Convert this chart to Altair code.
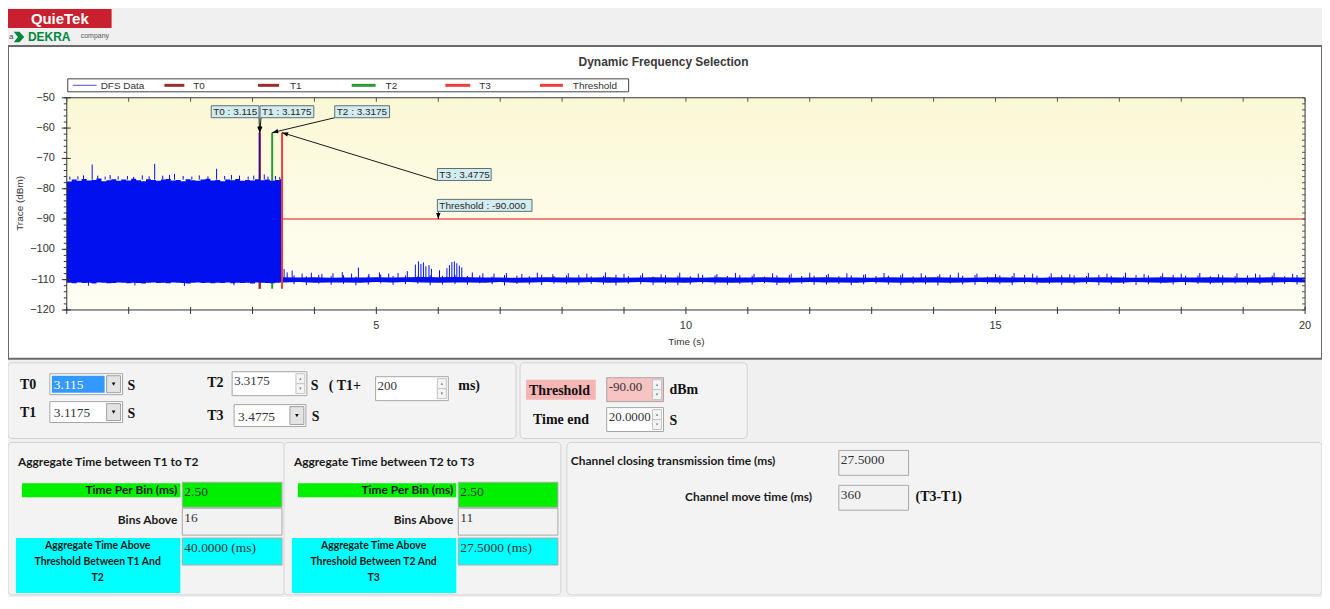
import math
import altair as alt
import pandas as pd

# ---------------- values ----------------
x_domain = [0, 20]
y_domain = [-120, -50]
x_tick_values = list(range(0, 21))
y_tick_values = list(range(-120, -49, 2))
x_label_values = [5, 10, 15, 20]
y_label_values = [-50, -60, -70, -80, -90, -100, -110, -120]

# dense DFS trace before T3: upper / lower envelope of the packed samples
block_t = [0.00, 0.08, 0.16, 0.24, 0.32, 0.40, 0.48, 0.56, 0.64, 0.72, 0.80, 0.88, 0.96, 1.04, 1.12,
           1.20, 1.28, 1.36, 1.44, 1.52, 1.60, 1.68, 1.76, 1.84, 1.92, 2.00, 2.08, 2.16, 2.24, 2.32,
           2.40, 2.48, 2.56, 2.64, 2.72, 2.80, 2.88, 2.96, 3.04, 3.12, 3.20, 3.28, 3.36, 3.44, 3.4775]
block_top = [-77.6, -77.0, -77.4, -76.8, -77.3, -77.1, -76.6, -77.5, -77.2, -76.9, -77.4, -77.0, -77.3, -76.7, -77.2,
             -77.5, -76.9, -77.1, -77.4, -77.0, -76.8, -77.3, -77.1, -77.5, -76.9, -77.2, -77.4, -77.0, -76.7, -77.3,
             -77.1, -77.5, -77.0, -77.2, -76.8, -77.4, -77.1, -77.3, -76.9, -77.2, -77.0, -77.4, -77.1, -76.9, -77.3]
block_bot = [-111.0, -111.2, -110.9, -111.1, -111.0, -111.3, -110.9, -111.0, -111.2, -111.1, -110.9, -111.0, -111.2, -111.0, -111.1,
             -111.3, -111.0, -110.9, -111.1, -111.0, -111.2, -110.9, -111.0, -111.1, -111.3, -111.0, -110.9, -111.1, -111.0, -111.2,
             -111.0, -111.1, -110.9, -111.2, -111.0, -111.1, -111.0, -111.3, -110.9, -111.0, -111.1, -111.2, -111.0, -110.9, -111.0]
block_spike_t = [0.05, 0.18, 0.27, 0.41, 0.50, 0.62, 0.70, 0.83, 0.98, 1.08, 1.22, 1.33, 1.42, 1.55, 1.66, 1.74,
                 1.88, 2.02, 2.14, 2.28, 2.42, 2.55, 2.66, 2.79, 2.93, 3.02, 3.115, 3.19, 3.25, 3.37, 3.44]
block_spike_v = [-76.0, -75.9, -75.6, -72.0, -75.7, -76.0, -75.5, -75.9, -75.8, -76.1, -75.6, -75.9, -71.8, -75.7, -75.4, -75.1,
                 -75.8, -76.0, -75.6, -75.9, -73.4, -75.8, -75.5, -75.7, -76.0, -75.7, -61.5, -75.3, -76.0, -75.8, -76.1]
block_dip_t = [0.35, 1.10, 1.90, 2.70]
block_dip_v = [-112.0, -111.9, -112.1, -111.8]

# noise floor after T3
noise_t = [3.48, 3.75, 4.00, 4.25, 4.50, 4.75, 5.00, 5.25, 5.50, 5.75, 6.00, 6.25, 6.50, 6.75, 7.00, 7.25, 7.50,
           7.75, 8.00, 8.25, 8.50, 8.75, 9.00, 9.25, 9.50, 9.75, 10.00, 10.25, 10.50, 10.75, 11.00, 11.25, 11.50,
           11.75, 12.00, 12.25, 12.50, 12.75, 13.00, 13.25, 13.50, 13.75, 14.00, 14.25, 14.50, 14.75, 15.00, 15.25,
           15.50, 15.75, 16.00, 16.25, 16.50, 16.75, 17.00, 17.25, 17.50, 17.75, 18.00, 18.25, 18.50, 18.75, 19.00,
           19.25, 19.50, 19.75, 20.00]
noise_hi = [-109.2, -109.3, -109.2, -109.4, -109.3, -109.3, -109.2, -109.3, -109.2, -109.1,
            -109.2, -109.1, -109.2, -109.3, -109.3, -109.4, -109.3, -109.2, -109.3, -109.3,
            -109.3, -109.2, -109.4, -109.3, -109.2, -109.3, -109.3, -109.4, -109.2, -109.3,
            -109.3, -109.2, -109.3, -109.4, -109.3, -109.2, -109.3, -109.3, -109.4, -109.2,
            -109.3, -109.3, -109.2, -109.3, -109.4, -109.3, -109.2, -109.3, -109.3, -109.4,
            -109.2, -109.3, -109.3, -109.2, -109.3, -109.4, -109.3, -109.2, -109.3, -109.3,
            -109.2, -109.3, -109.4, -109.3, -109.2, -109.3, -109.3]
noise_lo = [-110.9, -110.8, -111.0, -110.9, -110.9, -111.0, -110.8, -110.9, -110.8, -110.9,
            -111.0, -110.9, -110.9, -111.0, -110.8, -111.0, -110.9, -110.8, -110.9, -110.9,
            -110.8, -111.0, -110.9, -110.8, -110.9, -110.9, -111.0, -110.8, -110.9, -111.0,
            -110.9, -110.8, -111.0, -110.9, -110.8, -110.9, -110.9, -111.0, -110.8, -110.9,
            -111.0, -110.9, -110.9, -111.0, -110.9, -110.8, -110.9, -110.9, -110.8, -111.0,
            -110.9, -111.0, -110.8, -110.9, -111.0, -110.8, -110.9, -111.0, -110.8, -110.9,
            -111.0, -110.9, -110.9, -111.0, -110.9, -110.8, -110.9]
noise_floor = -110.0
post_spike_t = [3.51, 3.56, 3.64, 3.80, 3.95, 4.12, 4.30, 4.45, 4.60, 4.71, 4.88, 5.05, 5.20, 5.35, 5.50,
                5.63, 5.68, 5.72, 5.76, 5.80, 5.85, 5.89, 6.02, 6.14, 6.18, 6.22, 6.26, 6.30, 6.34, 6.38,
                6.55, 6.72, 6.90, 7.10, 7.35, 7.60, 7.85, 8.10, 8.40, 8.70, 9.00, 9.30, 9.60, 9.90, 10.20,
                10.50, 10.80, 11.10, 11.40, 11.70, 12.00, 12.30, 12.60, 12.90, 13.20, 13.50, 13.80, 14.10,
                14.40, 14.70, 15.00, 15.30, 15.60, 15.90, 16.20, 16.50, 16.80, 17.10, 17.40, 17.70, 18.00,
                18.30, 18.60, 18.90, 19.20, 19.50, 19.80]
post_spike_v = [-106.5, -107.6, -107.0, -108.0, -107.7, -108.1, -107.9, -107.5, -108.0, -106.0, -108.1, -107.6, -108.0, -107.8, -107.2,
                -105.0, -104.0, -104.8, -104.3, -105.6, -105.2, -106.4, -106.9, -106.2, -105.2, -104.2, -104.0, -104.6, -105.4, -106.0,
                -107.6, -107.9, -108.0, -107.8, -108.1, -107.7, -108.2, -107.9, -108.0, -107.6, -108.1, -107.9, -108.2, -107.7, -108.0,
                -108.2, -107.8, -108.1, -107.9, -108.0, -107.7, -108.1, -107.9, -108.2, -107.8, -108.0, -107.9, -108.2,
                -107.7, -108.0, -108.1, -107.8, -108.0, -107.9, -108.2, -107.8, -108.0, -107.7, -108.1, -107.9, -108.0,
                -107.8, -108.2, -107.9, -108.0, -107.7, -108.1]
# small jitter of the noise band (top / bottom reach of the densest samples)
jitter_t = [3.67, 3.87, 4.07, 4.27, 4.47, 4.67, 4.87, 5.07, 5.27, 5.47, 5.67, 5.87, 6.07, 6.27, 6.47, 6.67,
            6.87, 7.07, 7.27, 7.47, 7.67, 7.87, 8.07, 8.27, 8.47, 8.67, 8.87, 9.07, 9.27, 9.47, 9.67, 9.87,
            10.07, 10.27, 10.47, 10.67, 10.87, 11.07, 11.27, 11.47, 11.67, 11.87, 12.07, 12.27, 12.47, 12.67,
            12.87, 13.07, 13.27, 13.47, 13.67, 13.87, 14.07, 14.27, 14.47, 14.67, 14.87, 15.07, 15.27, 15.47,
            15.67, 15.87, 16.07, 16.27, 16.47, 16.67, 16.87, 17.07, 17.27, 17.47, 17.67, 17.87, 18.07, 18.27,
            18.47, 18.67, 18.87, 19.07, 19.27, 19.47, 19.67, 19.87]
jitter_up = [-108.6, -108.9, -108.4, -108.8, -108.5, -109.0, -108.7, -108.3, -108.8, -108.6,
             -108.9, -108.5, -108.7, -108.4, -108.8, -108.6, -109.0, -108.5, -108.7, -108.9,
             -108.4, -108.8, -108.6, -108.5, -108.9, -108.7, -108.4, -108.8, -108.6, -109.0,
             -108.5, -108.7, -108.9, -108.4, -108.6, -108.8, -108.5, -108.7, -109.0, -108.6,
             -108.4, -108.8, -108.7, -108.5, -108.9, -108.6, -108.4, -108.8, -108.7, -108.5,
             -108.9, -108.6, -108.8, -108.4, -108.7, -108.5, -109.0, -108.6, -108.8, -108.4,
             -108.7, -108.9, -108.5, -108.6, -108.8, -108.4, -108.7, -108.9, -108.5, -108.6,
             -108.8, -108.4, -108.7, -108.6, -108.9, -108.5, -108.8, -108.6, -108.4, -108.7,
             -108.9, -108.5]
jitter_dn = [-111.5, -111.8, -111.3, -111.7, -111.4, -111.9, -111.6, -111.2, -111.7, -111.5,
             -111.3, -111.8, -111.6, -111.4, -111.7, -111.2, -111.5, -111.9, -111.4, -111.6,
             -111.8, -111.3, -111.5, -111.7, -111.4, -111.6, -111.9, -111.3, -111.5, -111.7,
             -111.4, -111.8, -111.6, -111.3, -111.5, -111.7, -111.4, -111.6, -111.2, -111.8,
             -111.5, -111.3, -111.7, -111.6, -111.4, -111.8, -111.5, -111.3, -111.6, -111.7,
             -111.4, -111.5, -111.9, -111.3, -111.6, -111.7, -111.4, -111.5, -111.8, -111.3,
             -111.6, -111.4, -111.7, -111.5, -111.3, -111.8, -111.6, -111.4, -111.7, -111.5,
             -111.3, -111.6, -111.8, -111.4, -111.5, -111.7, -111.3, -111.6, -111.5, -111.8,
             -111.4, -111.6]

marker_names = ["T0", "T1", "T2", "T3"]
marker_times = [3.115, 3.1175, 3.3175, 3.4775]
marker_top = -61.5
marker_bottom = -113.0
threshold = -90.0
threshold_label_t = 6.0
time_end = 20.0
legend_names = ["DFS Data", "T0", "T1", "T2", "T3", "Threshold"]

# ---------------- styles / layout ----------------
BLUE = "#0010ee"
C_T0, C_T1, C_T2, C_T3 = "#9e2b2b", "#9e2b2b", "#2f9a35", "#f03c3c"
C_THR = "#f4857d"
SANS, SERIF, UI = "Liberation Sans", "Liberation Serif", "Lato"

W, H = 1243, 213          # plot area
OX, OY = 67, 97           # page position of plot origin
PAGE_W, PAGE_H = 1319, 589
PAD = {"left": OX - 8, "top": OY - 8, "right": PAGE_W - (OX - 8) - W, "bottom": PAGE_H - (OY - 8) - H}

xs = alt.Scale(domain=x_domain, nice=False, zero=False)
ys = alt.Scale(domain=y_domain, nice=False, zero=False)


def X(f):
    return alt.X(f, type="quantitative", scale=xs, axis=None)


def Y(f):
    return alt.Y(f, type="quantitative", scale=ys, axis=None)


DUMMY = alt.Data(values=[{"k": 0}])


def R(x1, y1, x2, y2, fill="#ffffff", stroke=None, sw=1.0, r=0, fo=1.0):
    kw = {"fill": fill, "fillOpacity": fo, "cornerRadius": r}
    if stroke:
        kw["stroke"] = stroke
        kw["strokeWidth"] = sw
    return alt.Chart(DUMMY).mark_rect(**kw).encode(
        x=alt.value(x1 - OX), x2=alt.value(x2 - OX), y=alt.value(y1 - OY), y2=alt.value(y2 - OY))


def Tx(x, y, s, size=12, font=SANS, weight="normal", color="#222222", align="left", angle=None):
    kw = dict(align=align, baseline="middle", font=font, fontSize=size, fontWeight=weight, color=color)
    if angle is not None:
        kw["angle"] = angle
    return alt.Chart(DUMMY).mark_text(**kw).encode(
        x=alt.value(x - OX), y=alt.value(y - OY), text=alt.value(s))


def Ln(x1, y1, x2, y2, color="#000000", sw=1.0):
    return alt.Chart(DUMMY).mark_rule(color=color, strokeWidth=sw).encode(
        x=alt.value(x1 - OX), y=alt.value(y1 - OY), x2=alt.value(x2 - OX), y2=alt.value(y2 - OY))


def Sym(x, y, shape, size, color, angle=0):
    kw = dict(shape=shape, size=size, filled=True, color=color, opacity=1, strokeWidth=0)
    if angle:
        kw["angle"] = angle
    return alt.Chart(DUMMY).mark_point(**kw).encode(x=alt.value(x - OX), y=alt.value(y - OY))


VAL = 13.5


def combo(x1, y1, x2, y2, s, selected=False):
    cy = (y1 + y2) / 2
    out = [R(x1, y1, x2, y2, "#ffffff", "#a6a6a6")]
    if selected:
        out.append(R(x1 + 2, y1 + 2, x2 - 18, y2 - 2, "#3399ff"))
    out.append(Tx(x1 + 4, cy + 1, s, VAL, SERIF, color="#ffffff" if selected else "#333333"))
    out.append(R(x2 - 16, y1 + 2, x2 - 2, y2 - 2, "#e3e3e3", "#a0a0a0"))
    out.append(Sym(x2 - 9, cy, "triangle-down", 14, "#111111"))
    return out


def spin(x1, y1, x2, y2, s, fill="#ffffff"):
    cy = (y1 + y2) / 2
    return [R(x1, y1, x2, y2, fill, "#a6a6a6"),
            Tx(x1 + 2, y1 + 9, s, 13, SERIF, color="#333333"),
            R(x2 - 11, y1 + 2, x2 - 2, cy, "#f4f4f4", "#c4c4c4"),
            R(x2 - 11, cy, x2 - 2, y2 - 2, "#f4f4f4", "#c4c4c4"),
            Sym(x2 - 6.5, (y1 + 2 + cy) / 2, "triangle-up", 6, "#777777"),
            Sym(x2 - 6.5, (cy + y2 - 2) / 2, "triangle-down", 6, "#777777")]


def field(x1, y1, x2, y2, s, fill):
    return [R(x1, y1, x2, y2, fill, "#a9a9a9"), Tx(x1 + 2, y1 + 10, s, VAL, SERIF, color="#333333")]


def panel(x1, y1, x2, y2):
    return R(x1, y1, x2, y2, "#f3f3f3", "#d3d3d3", 1, 4)


layers = []

# ---------- chart panel + header ----------
layers.append(R(8, 45, 1327, 359, "#ffffff", "#6a6a6a", 2))
layers.append(R(8, 8, 112, 27, "#c9202f"))
layers.append(Tx(60, 18, "QuieTek", 15, SANS, "bold", "#ffffff", "center"))
layers.append(Tx(9, 36, "a", 8, SANS, color="#444444"))
layers.append(Sym(19, 36, "M-1,-1L0.1,-1L1,0L0.1,1L-1,1L-0.2,0Z", 110, "#00873e"))
layers.append(Tx(28, 36, "DEKRA", 12, SANS, "bold", "#00873e"))
layers.append(Tx(81, 35, "company", 7, SANS, color="#555555"))

# ---------- plot background ----------
grad = alt.Gradient(gradient="linear", x1=0, x2=0, y1=0, y2=1,
                    stops=[alt.GradientStop(color="#fbf8d6", offset=0),
                           alt.GradientStop(color="#fffef4", offset=1)])
layers.append(alt.Chart(DUMMY).mark_rect(color=grad).encode(
    x=alt.value(0), x2=alt.value(W), y=alt.value(0), y2=alt.value(H)))

# threshold line
thr_df = pd.DataFrame({"t0": [x_domain[0]], "t1": [time_end], "v": [threshold]})
layers.append(alt.Chart(thr_df).mark_rule(color=C_THR, strokeWidth=2).encode(
    x=X("t0"), x2="t1", y=Y("v")))

# marker lines under the trace (T0, T1, T2)
mcolors = [C_T0, C_T1, C_T2, C_T3]
for name, t, c in zip(marker_names[:3], marker_times[:3], mcolors[:3]):
    df = pd.DataFrame({"t": [t], "top": [marker_top], "bot": [marker_bottom]})
    layers.append(alt.Chart(df).mark_rule(color=c, strokeWidth=2).encode(x=X("t"), y=Y("top"), y2="bot"))

# DFS trace
block_df = pd.DataFrame(list(zip(block_t, block_top, block_bot)), columns=["t", "top", "bot"])
layers.append(alt.Chart(block_df).mark_area(color=BLUE, interpolate="step-after", opacity=1).encode(
    x=X("t"), y=Y("top"), y2="bot"))
bs_df = pd.DataFrame(list(zip(block_spike_t, block_spike_v)), columns=["t", "v"])
bs_df["base"] = -77.0
layers.append(alt.Chart(bs_df).mark_rule(color=BLUE, strokeWidth=1).encode(x=X("t"), y=Y("v"), y2="base"))
bd_df = pd.DataFrame(list(zip(block_dip_t, block_dip_v)), columns=["t", "v"])
bd_df["base"] = -110.5
layers.append(alt.Chart(bd_df).mark_rule(color=BLUE, strokeWidth=1).encode(x=X("t"), y=Y("v"), y2="base"))

noise_df = pd.DataFrame(list(zip(noise_t, noise_hi, noise_lo)), columns=["t", "hi", "lo"])
layers.append(alt.Chart(noise_df).mark_area(color=BLUE, opacity=1).encode(x=X("t"), y=Y("hi"), y2="lo"))
jit_df = pd.DataFrame(list(zip(jitter_t, jitter_up, jitter_dn)), columns=["t", "up", "dn"])
layers.append(alt.Chart(jit_df).mark_rule(color=BLUE, strokeWidth=1).encode(x=X("t"), y=Y("up"), y2="dn"))
ps_df = pd.DataFrame(list(zip(post_spike_t, post_spike_v)), columns=["t", "v"])
ps_df["base"] = noise_floor
layers.append(alt.Chart(ps_df).mark_rule(color=BLUE, strokeWidth=1).encode(x=X("t"), y=Y("v"), y2="base"))

# T3 line on top of the trace
t3_df = pd.DataFrame({"t": [marker_times[3]], "top": [marker_top], "bot": [marker_bottom]})
layers.append(alt.Chart(t3_df).mark_rule(color=C_T3, strokeWidth=2).encode(x=X("t"), y=Y("top"), y2="bot"))

# ---------- frame, ticks, tick labels, axis titles ----------
layers.append(alt.Chart(DUMMY).mark_rect(fillOpacity=0, stroke="#333333", strokeWidth=1).encode(
    x=alt.value(0), x2=alt.value(W), y=alt.value(0), y2=alt.value(H)))
xt_df = pd.DataFrame({"v": x_tick_values})
yt_df = pd.DataFrame({"v": y_tick_values})
ytm_df = pd.DataFrame({"v": y_label_values})
layers.append(alt.Chart(xt_df).mark_rule(color="#555555").encode(x=X("v"), y=alt.value(0), y2=alt.value(4)))
layers.append(alt.Chart(xt_df).mark_rule(color="#333333").encode(x=X("v"), y=alt.value(H - 3), y2=alt.value(H + 4)))
layers.append(alt.Chart(yt_df).mark_rule(color="#555555").encode(y=Y("v"), x=alt.value(W - 3), x2=alt.value(W)))
layers.append(alt.Chart(yt_df).mark_rule(color="#333333").encode(y=Y("v"), x=alt.value(-3), x2=alt.value(0)))
layers.append(alt.Chart(ytm_df).mark_rule(color="#333333").encode(y=Y("v"), x=alt.value(-5), x2=alt.value(4)))
xl_df = pd.DataFrame({"v": x_label_values})
layers.append(alt.Chart(xl_df).mark_text(font=SANS, fontSize=11, color="#333333", align="center",
                                         baseline="middle").encode(
    x=X("v"), y=alt.value(H + 16), text=alt.Text("v:Q", format="d")))
layers.append(alt.Chart(ytm_df).mark_text(font=SANS, fontSize=11, color="#333333", align="right",
                                          baseline="middle").encode(
    y=Y("v"), x=alt.value(-12), text=alt.Text("v:Q", format="d")))
layers.append(Tx(689, 342, "Time (s)", 10, SANS, color="#333333", align="center"))
layers.append(Tx(20, 203, "Trace (dBm)", 10, SANS, color="#333333", align="center", angle=270))

# ---------- annotations ----------
ARROW = "M0,0L-0.8,2.2L0.8,2.2Z"


def head_px(t, v):
    return (t - x_domain[0]) / (x_domain[1] - x_domain[0]) * W, (y_domain[1] - v) / (y_domain[1] - y_domain[0]) * H


ann = [  # label, box (page px), arrow head data point, arrow tail (page px)
    (f"T0 : {marker_times[0]}", (212, 105, 260, 117), (marker_times[0], marker_top), (260, 117)),
    (f"T1 : {marker_times[1]}", (261, 105, 315, 117), (marker_times[1], marker_top), (262, 117)),
    (f"T2 : {marker_times[2]}", (336, 105, 391, 117), (marker_times[2], marker_top), (336, 117)),
    (f"T3 : {marker_times[3]}", (439, 168, 493, 180), (marker_times[3], marker_top), (439, 180)),
    (f"Threshold : {threshold:.3f}", (439, 199, 534, 211), (threshold_label_t, threshold), (440, 211)),
]
for label, (bx1, by1, bx2, by2), (ht, hv), (tx, ty) in ann:
    hdf = pd.DataFrame({"t": [ht], "v": [hv]})
    layers.append(alt.Chart(hdf).mark_rule(color="#1a1a1a", strokeWidth=1).encode(
        x=X("t"), y=Y("v"), x2=alt.value(tx - OX), y2=alt.value(ty - OY)))
    hx, hy = head_px(ht, hv)
    ang = math.degrees(math.atan2(hx - (tx - OX), -(hy - (ty - OY)))) % 360
    layers.append(alt.Chart(hdf).mark_point(shape=ARROW, size=30, filled=True, color="#000000", opacity=1,
                                            strokeWidth=0, angle=round(ang, 1)).encode(x=X("t"), y=Y("v")))
for label, (bx1, by1, bx2, by2), _, _ in ann:
    layers.append(R(bx1, by1, bx2, by2, "#d3ecef", "#5f6f70"))
    layers.append(Tx(bx1 + 2, (by1 + by2) / 2 + 0.5, label, 10, SANS, color="#2a2a2a"))

# ---------- title and legend ----------
layers.append(Tx(666, 61, "Dynamic Frequency Selection", 12, SANS, "bold", "#3a3a3a", "center"))
layers.append(R(68, 78, 631, 91, "#ffffff", "#444444"))
leg_line = [(73, 97), (165, 185), (259, 280), (353, 377), (447, 472), (542, 565)]
leg_text_x = [101, 194, 291, 387, 481, 575]
leg_col = ["#6a6ad6", C_T0, C_T1, C_T2, C_T3, C_T3]
leg_w = [1.2, 3, 3, 3, 3, 3]
for name, (a, b), tx, c, w in zip(legend_names, leg_line, leg_text_x, leg_col, leg_w):
    layers.append(Ln(a, 84.5, b, 84.5, c, w))
    layers.append(Tx(tx, 85, name, 10, SANS, color="#333333"))

# ---------- control panels ----------
layers.append(panel(8, 363, 518, 439))
layers.append(panel(522, 363, 750, 439))
layers.append(Tx(20, 385, "T0", 14, SERIF, "bold", "#111111"))
layers += combo(50, 374, 123, 395, f"{marker_times[0]}", selected=True)
layers.append(Tx(128, 386, "S", 14, SERIF, "bold", "#111111"))
layers.append(Tx(20, 413, "T1", 14, SERIF, "bold", "#111111"))
layers += combo(50, 402, 123, 423, f"{marker_times[1]}")
layers.append(Tx(128, 414, "S", 14, SERIF, "bold", "#111111"))
layers.append(Tx(208, 383, "T2", 14, SERIF, "bold", "#111111"))
layers += spin(233, 372, 308, 396, f"{marker_times[2]}")
layers.append(Tx(312, 386, "S", 14, SERIF, "bold", "#111111"))
layers.append(Tx(330, 386, "( T1+", 14, SERIF, "bold", "#111111"))
layers += spin(377, 377, 450, 401, "200")
layers.append(Tx(460, 386, "ms)", 14, SERIF, "bold", "#111111"))
layers.append(Tx(208, 416, "T3", 14, SERIF, "bold", "#111111"))
layers += combo(235, 405, 307, 427, f"{marker_times[3]}")
layers.append(Tx(313, 417, "S", 14, SERIF, "bold", "#111111"))

layers.append(R(528, 380, 598, 400, "#f5b5b5"))
layers.append(Tx(531, 391, "Threshold", 14, SERIF, "bold", "#111111"))
layers += spin(609, 378, 666, 402, f"{threshold:.2f}", fill="#f8c3c3")
layers.append(Tx(672, 390, "dBm", 14, SERIF, "bold", "#111111"))
layers.append(Tx(535, 420, "Time end", 14, SERIF, "bold", "#111111"))
layers += spin(609, 408, 666, 432, f"{time_end:.4f}")
layers.append(Tx(672, 421, "S", 14, SERIF, "bold", "#111111"))

# ---------- result panels ----------
agg_titles = ["Aggregate Time between T1 to T2", "Aggregate Time between T2 to T3"]
time_per_bin = ["2.50", "2.50"]
bins_above = ["16", "11"]
agg_time = ["40.0000 (ms)", "27.5000 (ms)"]
agg_lines = [["Aggregate Time Above", "Threshold Between T1 And", "T2"],
             ["Aggregate Time Above", "Threshold Between T2 And", "T3"]]
LY = 4
for i, x0 in enumerate([0, 277]):
    layers.append(panel(8 + x0, 439 + LY, 286 + x0, 592 + LY))
    layers.append(Tx(18 + x0, 459 + LY, agg_titles[i], 12, UI, "bold", "#1a1a1a"))
    layers.append(R(22 + x0, 480 + LY, 181 + x0, 494 + LY, "#00f000"))
    layers.append(Tx(178 + x0, 487 + LY, "Time Per Bin (ms)", 12, UI, "bold", "#1a1a1a", "right"))
    layers += field(183 + x0, 479 + LY, 283 + x0, 504 + LY, time_per_bin[i], "#00f000")
    layers.append(Tx(178 + x0, 517 + LY, "Bins Above", 12, UI, "bold", "#1a1a1a", "right"))
    layers += field(183 + x0, 505 + LY, 283 + x0, 532 + LY, bins_above[i], "#f2f2f2")
    layers.append(R(16 + x0, 535 + LY, 181 + x0, 590 + LY, "#00ffff"))
    for j, line in enumerate(agg_lines[i]):
        layers.append(Tx(98 + x0, 543 + LY + 16 * j, line, 10.5, UI, "bold", "#1a1a1a", "center"))
    layers += field(183 + x0, 535 + LY, 283 + x0, 562 + LY, agg_time[i], "#00ffff")

layers.append(panel(569, 439 + LY, 1327, 592 + LY))
layers.append(Tx(573, 458 + LY, "Channel closing transmission time (ms)", 12, UI, "bold", "#1a1a1a"))
layers += field(842, 447 + LY, 912, 472 + LY, "27.5000", "#f2f2f2")
layers.append(Tx(815, 494 + LY, "Channel move time (ms)", 12, UI, "bold", "#1a1a1a", "right"))
layers += field(842, 482 + LY, 912, 507 + LY, "360", "#f2f2f2")
layers.append(Tx(919, 494 + LY, "(T3-T1)", 14, SERIF, "bold", "#111111"))

chart = alt.layer(*layers).properties(
    width=W, height=H,
    autosize=alt.AutoSizeParams(type="none"),
    padding=PAD,
    background="#f0f0f0",
).configure_view(stroke="transparent")

chart.save("out.html", embed_options={"renderer": "svg", "actions": False})
